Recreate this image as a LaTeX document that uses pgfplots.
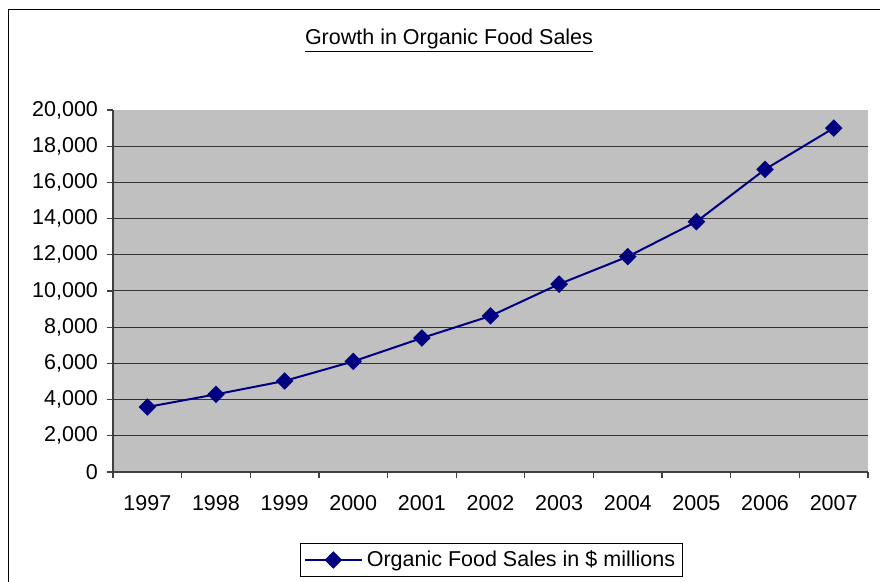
\documentclass[border=0pt]{standalone}
\usepackage{pgfplots}
\pgfplotsset{compat=1.18}
\usepackage{fontspec}
\setmainfont{Liberation Sans}
\definecolor{navyline}{HTML}{000080}
\definecolor{plotbg}{HTML}{C0C0C0}
\begin{document}
\begin{tikzpicture}
\useasboundingbox (0pt,0pt) rectangle (440pt,-291pt);
\draw[line width=0.5pt] (4pt,-291pt) -- (4pt,-5pt) -- (440pt,-5pt);
\node[font=\fontsize{10.75pt}{13pt}\selectfont] at (224.5pt,-20.5pt) {\underline{Growth in Organic Food Sales}};
\begin{axis}[
  at={(56.5pt,-236pt)}, anchor=south west,
  scale only axis, width=377.5pt, height=181pt,
  xmin=-0.5, xmax=10.5, ymin=0, ymax=20000,
  axis x line*=bottom, axis y line*=left,
  axis line style={black!75, line width=0.6pt},
  axis background/.style={fill=plotbg},
  xtick={0,...,10},
  xticklabels={1997,1998,1999,2000,2001,2002,2003,2004,2005,2006,2007},
  minor xtick={-0.5,0.5,...,10.5},
  major x tick style={draw=none},
  minor x tick style={black!75, line width=0.6pt},
  minor tick length=3pt,
  ytick={0,2000,...,20000},
  scaled y ticks=false,
  major y tick style={black!75, line width=0.6pt},
  major tick length=3pt,
  tick align=outside,
  extra y ticks={2000,4000,...,18000},
  extra y tick labels={},
  extra y tick style={grid=major, major tick length=0pt},
  grid style={black!80, line width=0.5pt},
  /pgf/number format/assume math mode=true,
  /pgf/number format/fixed,
  /pgf/number format/precision=0,
  /pgf/number format/1000 sep={,},
  ticklabel style={font=\fontsize{10.75pt}{13pt}\selectfont},
  xticklabel style={yshift=-5pt},
  yticklabel style={xshift=-1pt},
  legend style={at={(0.5013,-0.243)}, anchor=center, draw=black, line width=0.5pt,
    font=\fontsize{10.75pt}{13pt}\selectfont, inner sep=1.5pt},
  legend image code/.code={\draw[mark repeat=2,mark phase=2] plot coordinates {(0cm,0cm) (0.5cm,0cm) (1cm,0cm)};},
]
\addplot[navyline, line width=1pt, mark=square*, mark size=2.6pt, mark options={solid, rotate=45, fill=navyline}]
coordinates {(0,3590) (1,4290) (2,5030) (3,6110) (4,7400) (5,8620) (6,10380) (7,11900) (8,13830) (9,16720) (10,19000)};
\addlegendentry{Organic Food Sales in \$ millions}
\end{axis}
\end{tikzpicture}
\end{document}
